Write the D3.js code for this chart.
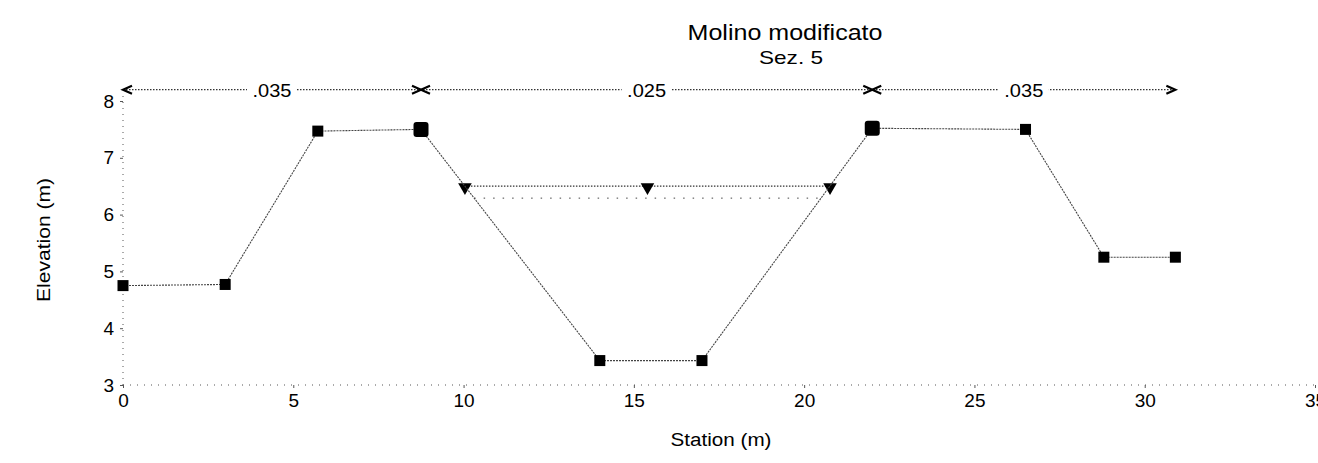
<!DOCTYPE html>
<html>
<head>
<meta charset="utf-8">
<script src="https://cdn.jsdelivr.net/npm/d3@7"></script>
<style>
  body { margin: 0; background: #fff; }
  text { font-family: Arial, "Liberation Sans", sans-serif; fill: #000; }
</style>
</head>
<body>
<div id="chart"></div>
<script>
// ground points of the cross section
var station = [0, 3, 5.72, 8.75, 14, 17, 22, 26.5, 28.8, 30.9];
var elevation = [4.75, 4.77, 7.47, 7.5, 3.43, 3.43, 7.52, 7.5, 5.25, 5.25];
var bankStations = [8.75, 22];

// manning n values along the top
var nBreaks = [0, 8.75, 22, 30.9];
var nValues = ['.035', '.025', '.035'];
var nLevel = 8.2;

// water surface and the lower dotted line
var wsElev = 6.5;
var wsMarkers = [10.04, 15.4, 20.76];
var lowElev = 6.29;
var lowExtent = [10.31, 20.5];

var xTicks = [0, 5, 10, 15, 20, 25, 30, 35];
var yTicks = [3, 4, 5, 6, 7, 8];

var width = 1318, height = 463;
var svg = d3.select('#chart').append('svg')
    .attr('width', width).attr('height', height);

var x = d3.scaleLinear().domain([0, 35]).range([123, 1315]);
var y = d3.scaleLinear().domain([3, 8]).range([385, 101]);

var fontFam = 'Arial, "Liberation Sans", sans-serif';

// titles
svg.append('text').attr('x', 785).attr('y', 40).attr('text-anchor', 'middle')
    .attr('font-size', 22).attr('textLength', 195).attr('lengthAdjust', 'spacingAndGlyphs')
    .text('Molino modificato');
svg.append('text').attr('x', 791).attr('y', 64).attr('text-anchor', 'middle')
    .attr('font-size', 19).attr('textLength', 64).attr('lengthAdjust', 'spacingAndGlyphs')
    .text('Sez. 5');

// axes (dotted, like the scan)
var axisColor = '#555';
svg.append('line').attr('x1', x(0)).attr('x2', width)
    .attr('y1', y(3)).attr('y2', y(3))
    .attr('stroke', axisColor).attr('stroke-width', 1).attr('stroke-dasharray', '1,6');
svg.append('line').attr('x1', x(0)).attr('x2', x(0))
    .attr('y1', y(3)).attr('y2', y(8.15))
    .attr('stroke', axisColor).attr('stroke-width', 1).attr('stroke-dasharray', '1,5');

var xAxis = d3.axisBottom(x).tickValues(xTicks).tickSize(3).tickPadding(6)
    .tickFormat(d3.format('d'));
var gx = svg.append('g').attr('transform', 'translate(0,' + y(3) + ')').call(xAxis);
gx.select('.domain').remove();
gx.selectAll('.tick line').attr('stroke', axisColor);
gx.selectAll('.tick text').attr('font-size', 19).attr('font-family', fontFam).attr('fill', '#000');

var yAxis = d3.axisLeft(y).tickValues(yTicks).tickSize(3).tickPadding(6)
    .tickFormat(d3.format('d'));
var gy = svg.append('g').attr('transform', 'translate(' + x(0) + ',0)').call(yAxis);
gy.select('.domain').remove();
gy.selectAll('.tick line').attr('stroke', axisColor);
gy.selectAll('.tick text').attr('font-size', 19).attr('font-family', fontFam).attr('fill', '#000');

svg.append('text').attr('x', 721).attr('y', 446).attr('text-anchor', 'middle')
    .attr('font-size', 18).attr('textLength', 101).attr('lengthAdjust', 'spacingAndGlyphs')
    .text('Station (m)');
svg.append('text').attr('transform', 'translate(50,240) rotate(-90)')
    .attr('text-anchor', 'middle').attr('font-size', 18).attr('textLength', 124)
    .attr('lengthAdjust', 'spacingAndGlyphs').text('Elevation (m)');

// n value line with arrowheads and labels
var ny = y(nLevel);
svg.append('line').attr('x1', x(nBreaks[0])).attr('x2', x(nBreaks[nBreaks.length - 1]))
    .attr('y1', ny).attr('y2', ny)
    .attr('stroke', '#333').attr('stroke-width', 1.2).attr('stroke-dasharray', '1.5,1.5');
nBreaks.forEach(function(b, i) {
  var bx = x(b);
  // arrowhead pointing right (end of the segment on the left)
  if (i > 0) {
    svg.append('path').attr('d', 'M' + (bx - 9) + ',' + (ny - 4) + 'L' + bx + ',' + ny + 'L' + (bx - 9) + ',' + (ny + 4))
        .attr('fill', 'none').attr('stroke', '#000').attr('stroke-width', 2.2);
  }
  // arrowhead pointing left (start of the segment on the right)
  if (i < nBreaks.length - 1) {
    svg.append('path').attr('d', 'M' + (bx + 9) + ',' + (ny - 4) + 'L' + bx + ',' + ny + 'L' + (bx + 9) + ',' + (ny + 4))
        .attr('fill', 'none').attr('stroke', '#000').attr('stroke-width', 2.2);
  }
});
nValues.forEach(function(v, i) {
  var cx = (x(nBreaks[i]) + x(nBreaks[i + 1])) / 2;
  svg.append('rect').attr('x', cx - 25).attr('y', ny - 9).attr('width', 50).attr('height', 18)
      .attr('fill', '#fff');
  svg.append('text').attr('x', cx).attr('y', ny + 7).attr('text-anchor', 'middle')
      .attr('font-size', 19).attr('textLength', 39).attr('lengthAdjust', 'spacingAndGlyphs')
      .text(v);
});

// water surface
svg.append('line').attr('x1', x(wsMarkers[0])).attr('x2', x(wsMarkers[wsMarkers.length - 1]))
    .attr('y1', y(wsElev)).attr('y2', y(wsElev))
    .attr('stroke', '#333').attr('stroke-width', 1.2).attr('stroke-dasharray', '1.5,1.5');
svg.append('line').attr('x1', x(lowExtent[0])).attr('x2', x(lowExtent[1]))
    .attr('y1', y(lowElev)).attr('y2', y(lowElev))
    .attr('stroke', '#444').attr('stroke-width', 1).attr('stroke-dasharray', '1.5,8');
svg.selectAll('path.ws').data(wsMarkers).enter().append('path')
    .attr('class', 'ws')
    .attr('d', d3.symbol().type(d3.symbolTriangle).size(80))
    .attr('transform', function(d) { return 'translate(' + x(d) + ',' + (y(wsElev) + 1) + ') rotate(180)'; })
    .attr('fill', '#000');

// ground line
var pts = station.map(function(s, i) { return [s, elevation[i]]; });
var line = d3.line().x(function(d) { return x(d[0]); }).y(function(d) { return y(d[1]); });
svg.append('path').datum(pts).attr('d', line)
    .attr('fill', 'none').attr('stroke', '#444').attr('stroke-width', 1.1)
    .attr('stroke-dasharray', '2,1');

// point markers, banks drawn bigger
var isBank = function(d) { return bankStations.indexOf(d[0]) >= 0; };
svg.selectAll('rect.pt').data(pts).enter().append('rect')
    .attr('class', 'pt')
    .attr('x', function(d) { return x(d[0]) - (isBank(d) ? 7.5 : 5.5); })
    .attr('y', function(d) { return y(d[1]) - (isBank(d) ? 7.5 : 5.5); })
    .attr('width', function(d) { return isBank(d) ? 15 : 11; })
    .attr('height', function(d) { return isBank(d) ? 15 : 11; })
    .attr('rx', function(d) { return isBank(d) ? 3 : 0; })
    .attr('fill', '#000');
</script>
</body>
</html>
